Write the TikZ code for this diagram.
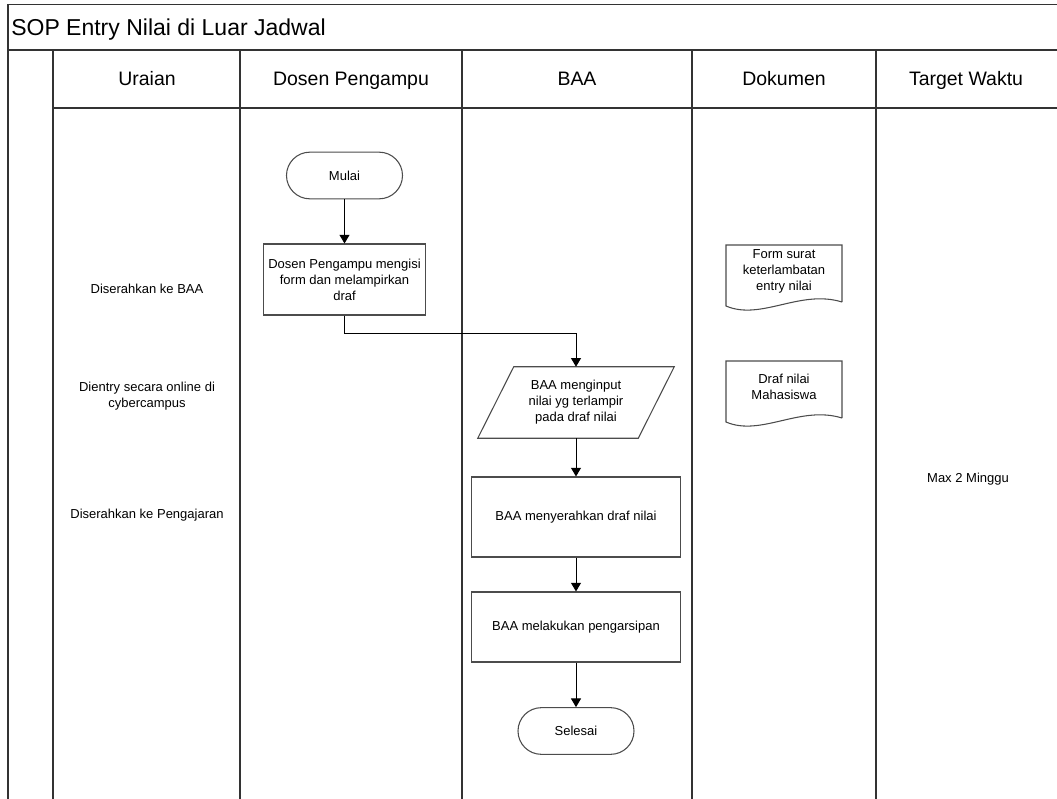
\documentclass[tikz,border=0pt]{standalone}
\usepackage{fontspec}
\setmainfont{Liberation Sans}
\usetikzlibrary{shapes.misc,arrows.meta,calc}

% outline of a "document" symbol around a text node
\newcommand\docshape[1]{%
  \draw[outline] ($(#1)+(58,31)$) -- ($(#1)+(58,-26)$) -- ($(#1)+(-58,-26)$)
    -- ($(#1)+(-58,35)$) .. controls ($(#1)+(-23,50)$) and ($(#1)+(16,18)$) .. ($(#1)+(58,31)$);}

\begin{document}
\begin{tikzpicture}[x=0.75pt,y=-0.75pt,
  frame/.style={draw=black!80,line width=1.1pt},
  outline/.style={draw=black!70,line width=0.8pt},
  lbl/.style={font=\fontsize{9.75}{12}\selectfont,align=center,inner sep=0pt},
  head/.style={font=\fontsize{14.6}{17}\selectfont,inner sep=0pt,anchor=base},
  stepbox/.style={outline,rectangle,lbl},
  terminal/.style={outline,rounded rectangle,lbl,minimum width=87pt,minimum height=35pt},
  flow/.style={draw=black,line width=0.75pt,-{Triangle[width=7.5pt,length=6.5pt]}}]

\useasboundingbox (0,0) rectangle (1057,799);

% table frame
\begin{scope}
  \clip (0,0) rectangle (1057,799);
  \draw[frame] (8,810) -- (8,4.5) -- (1070,4.5);
  \draw[frame] (8,50) -- (1070,50);
  \draw[frame] (53,108) -- (1070,108);
  \foreach \x in {53,240,462,692,876} \draw[frame] (\x,50) -- (\x,810);
\end{scope}

% title and column headers
\node[font=\fontsize{17.25}{20}\selectfont,inner sep=0pt,anchor=base west] (title) at (11,36) {SOP Entry Nilai di Luar Jadwal};
\node[head] (h1) at (147,86) {Uraian};
\node[head] (h2) at (351,86) {Dosen Pengampu};
\node[head] (h3) at (577,86) {BAA};
\node[head] (h4) at (784,86) {Dokumen};
\node[head] (h5) at (966,86) {Target Waktu};

% description column
\node[lbl,anchor=base] (u1) at (147,293) {Diserahkan ke BAA};
\node[lbl] (u2) at (147,396) {Dientry secara online di\\cybercampus};
\node[lbl,anchor=base] (u3) at (147,518) {Diserahkan ke Pengajaran};

% target time
\node[lbl,anchor=base] (t1) at (968,482) {Max 2 Minggu};

% flow
\node[terminal] (mulai) at (344.5,175.5) {Mulai};
\node[stepbox,minimum width=121.5pt,minimum height=53.25pt] (dosen) at (344.5,279.5)
  {Dosen Pengampu mengisi\\form dan melampirkan\\draf};
\node[lbl,minimum width=120pt,minimum height=53.25pt] (inp) at (576,402.5)
  {BAA menginput\\nilai yg terlampir\\pada draf nilai};
\draw[outline] ($(inp.north west)+(18,0)$) -- ($(inp.north east)+(18,0)$)
  -- ($(inp.south east)+(-18,0)$) -- ($(inp.south west)+(-18,0)$) -- cycle;
\node[stepbox,minimum width=156.75pt,minimum height=60pt] (serah) at (576,517)
  {BAA menyerahkan draf nilai};
\node[stepbox,minimum width=156.75pt,minimum height=52.5pt] (arsip) at (576,627)
  {BAA melakukan pengarsipan};
\node[terminal] (selesai) at (576,731) {Selesai};

\draw[flow] (mulai.south) -- (dosen.north);
\draw[flow] (dosen.south) -- ($(dosen.south)+(0,18)$) -| (inp.north);
\draw[flow] (inp.south) -- (serah.north);
\draw[flow] (serah.south) -- (arsip.north);
\draw[flow] (arsip.south) -- (selesai.north);

% documents
\node[lbl] (doc1) at (784,271) {Form surat\\keterlambatan\\entry nilai};
\docshape{doc1}
\node[lbl] (doc2) at (784,387) {Draf nilai\\Mahasiswa};
\docshape{doc2}

\end{tikzpicture}
\end{document}
